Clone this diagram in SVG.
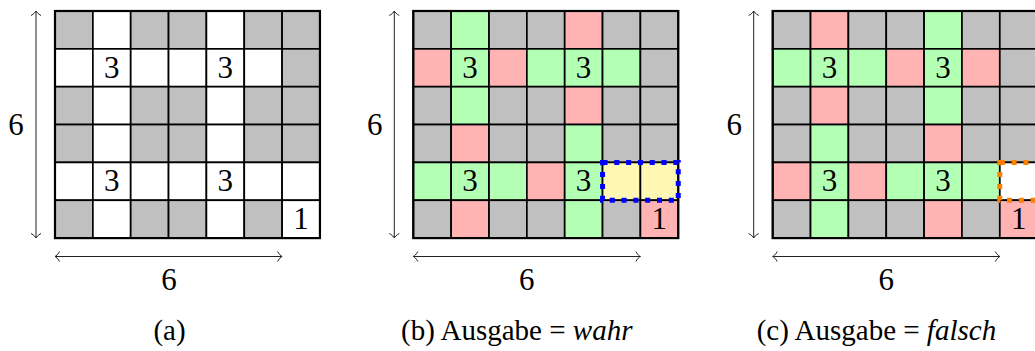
<svg xmlns="http://www.w3.org/2000/svg" width="1035" height="351" viewBox="0 0 1035 351">
<style>
rect.c{stroke:#000;stroke-width:1.7}
.g{fill:#c0c0c0}.w{fill:#fff}.gr{fill:#b3ffb3}.r{fill:#ffb3b3}.y{fill:#fff8b5}
.n{text-anchor:middle}
.cap{font-size:29px}
.ar{stroke:#222;stroke-width:1;fill:none;marker-start:url(#tip);marker-end:url(#tip)}
.dash{fill:none;stroke-width:5;stroke-dasharray:5 6.8}
</style>
<defs>
<marker id="tip" markerUnits="userSpaceOnUse" markerWidth="12" markerHeight="12" viewBox="-6 -6 12 12" refX="0" refY="0" orient="auto-start-reverse">
<path d="M-4.5,-5 C-3,-2 -1,-0.5 0,0 C-1,0.5 -3,2 -4.5,5" fill="none" stroke="#222" stroke-width="1"/>
</marker>
</defs>
<rect width="1035" height="351" fill="#fff"/>

<g id="panel-a" transform="translate(55,11)" font-family="'Liberation Serif', 'Times New Roman', serif" font-size="31">
<rect class="c g" x="0" y="0" width="37.85" height="37.85"/><rect class="c w" x="37.85" y="0" width="37.85" height="37.85"/><rect class="c g" x="75.7" y="0" width="37.85" height="37.85"/><rect class="c g" x="113.55" y="0" width="37.85" height="37.85"/><rect class="c w" x="151.4" y="0" width="37.85" height="37.85"/><rect class="c g" x="189.25" y="0" width="37.85" height="37.85"/><rect class="c g" x="227.1" y="0" width="37.85" height="37.85"/>
<rect class="c w" x="0" y="37.85" width="37.85" height="37.85"/><rect class="c w" x="37.85" y="37.85" width="37.85" height="37.85"/><rect class="c w" x="75.7" y="37.85" width="37.85" height="37.85"/><rect class="c w" x="113.55" y="37.85" width="37.85" height="37.85"/><rect class="c w" x="151.4" y="37.85" width="37.85" height="37.85"/><rect class="c w" x="189.25" y="37.85" width="37.85" height="37.85"/><rect class="c g" x="227.1" y="37.85" width="37.85" height="37.85"/>
<rect class="c g" x="0" y="75.7" width="37.85" height="37.85"/><rect class="c w" x="37.85" y="75.7" width="37.85" height="37.85"/><rect class="c g" x="75.7" y="75.7" width="37.85" height="37.85"/><rect class="c g" x="113.55" y="75.7" width="37.85" height="37.85"/><rect class="c w" x="151.4" y="75.7" width="37.85" height="37.85"/><rect class="c g" x="189.25" y="75.7" width="37.85" height="37.85"/><rect class="c g" x="227.1" y="75.7" width="37.85" height="37.85"/>
<rect class="c g" x="0" y="113.55" width="37.85" height="37.85"/><rect class="c w" x="37.85" y="113.55" width="37.85" height="37.85"/><rect class="c g" x="75.7" y="113.55" width="37.85" height="37.85"/><rect class="c g" x="113.55" y="113.55" width="37.85" height="37.85"/><rect class="c w" x="151.4" y="113.55" width="37.85" height="37.85"/><rect class="c g" x="189.25" y="113.55" width="37.85" height="37.85"/><rect class="c g" x="227.1" y="113.55" width="37.85" height="37.85"/>
<rect class="c w" x="0" y="151.4" width="37.85" height="37.85"/><rect class="c w" x="37.85" y="151.4" width="37.85" height="37.85"/><rect class="c w" x="75.7" y="151.4" width="37.85" height="37.85"/><rect class="c w" x="113.55" y="151.4" width="37.85" height="37.85"/><rect class="c w" x="151.4" y="151.4" width="37.85" height="37.85"/><rect class="c w" x="189.25" y="151.4" width="37.85" height="37.85"/><rect class="c w" x="227.1" y="151.4" width="37.85" height="37.85"/>
<rect class="c g" x="0" y="189.25" width="37.85" height="37.85"/><rect class="c w" x="37.85" y="189.25" width="37.85" height="37.85"/><rect class="c g" x="75.7" y="189.25" width="37.85" height="37.85"/><rect class="c g" x="113.55" y="189.25" width="37.85" height="37.85"/><rect class="c w" x="151.4" y="189.25" width="37.85" height="37.85"/><rect class="c g" x="189.25" y="189.25" width="37.85" height="37.85"/><rect class="c w" x="227.1" y="189.25" width="37.85" height="37.85"/>
<rect x="0" y="0" width="264.95" height="227.1" fill="none" stroke="#000" stroke-width="2.2"/>
<text class="n" x="56.75" y="66.5">3</text><text class="n" x="170.3" y="66.5">3</text>
<text class="n" x="56.75" y="180.1">3</text><text class="n" x="170.3" y="180.1">3</text>
<text class="n" x="246" y="218">1</text>
<text class="n" x="-39" y="124">6</text>
<text class="n" x="114" y="279">6</text>
<text class="n cap" x="114.5" y="329">(a)</text>
</g>

<g id="panel-b" transform="translate(413.3,11)" font-family="'Liberation Serif', 'Times New Roman', serif" font-size="31">
<rect class="c g" x="0" y="0" width="37.85" height="37.85"/><rect class="c gr" x="37.85" y="0" width="37.85" height="37.85"/><rect class="c g" x="75.7" y="0" width="37.85" height="37.85"/><rect class="c g" x="113.55" y="0" width="37.85" height="37.85"/><rect class="c r" x="151.4" y="0" width="37.85" height="37.85"/><rect class="c g" x="189.25" y="0" width="37.85" height="37.85"/><rect class="c g" x="227.1" y="0" width="37.85" height="37.85"/>
<rect class="c r" x="0" y="37.85" width="37.85" height="37.85"/><rect class="c gr" x="37.85" y="37.85" width="37.85" height="37.85"/><rect class="c r" x="75.7" y="37.85" width="37.85" height="37.85"/><rect class="c gr" x="113.55" y="37.85" width="37.85" height="37.85"/><rect class="c gr" x="151.4" y="37.85" width="37.85" height="37.85"/><rect class="c gr" x="189.25" y="37.85" width="37.85" height="37.85"/><rect class="c g" x="227.1" y="37.85" width="37.85" height="37.85"/>
<rect class="c g" x="0" y="75.7" width="37.85" height="37.85"/><rect class="c gr" x="37.85" y="75.7" width="37.85" height="37.85"/><rect class="c g" x="75.7" y="75.7" width="37.85" height="37.85"/><rect class="c g" x="113.55" y="75.7" width="37.85" height="37.85"/><rect class="c r" x="151.4" y="75.7" width="37.85" height="37.85"/><rect class="c g" x="189.25" y="75.7" width="37.85" height="37.85"/><rect class="c g" x="227.1" y="75.7" width="37.85" height="37.85"/>
<rect class="c g" x="0" y="113.55" width="37.85" height="37.85"/><rect class="c r" x="37.85" y="113.55" width="37.85" height="37.85"/><rect class="c g" x="75.7" y="113.55" width="37.85" height="37.85"/><rect class="c g" x="113.55" y="113.55" width="37.85" height="37.85"/><rect class="c gr" x="151.4" y="113.55" width="37.85" height="37.85"/><rect class="c g" x="189.25" y="113.55" width="37.85" height="37.85"/><rect class="c g" x="227.1" y="113.55" width="37.85" height="37.85"/>
<rect class="c gr" x="0" y="151.4" width="37.85" height="37.85"/><rect class="c gr" x="37.85" y="151.4" width="37.85" height="37.85"/><rect class="c gr" x="75.7" y="151.4" width="37.85" height="37.85"/><rect class="c r" x="113.55" y="151.4" width="37.85" height="37.85"/><rect class="c gr" x="151.4" y="151.4" width="37.85" height="37.85"/><rect class="c y" x="189.25" y="151.4" width="37.85" height="37.85"/><rect class="c y" x="227.1" y="151.4" width="37.85" height="37.85"/>
<rect class="c g" x="0" y="189.25" width="37.85" height="37.85"/><rect class="c r" x="37.85" y="189.25" width="37.85" height="37.85"/><rect class="c g" x="75.7" y="189.25" width="37.85" height="37.85"/><rect class="c g" x="113.55" y="189.25" width="37.85" height="37.85"/><rect class="c gr" x="151.4" y="189.25" width="37.85" height="37.85"/><rect class="c g" x="189.25" y="189.25" width="37.85" height="37.85"/><rect class="c r" x="227.1" y="189.25" width="37.85" height="37.85"/>
<rect x="0" y="0" width="264.95" height="227.1" fill="none" stroke="#000" stroke-width="2.2"/>
<rect class="dash" x="189.25" y="151.4" width="75.7" height="37.85" stroke="#0000ff"/>
<text class="n" x="56.75" y="66.5">3</text><text class="n" x="170.3" y="66.5">3</text>
<text class="n" x="56.75" y="180.1">3</text><text class="n" x="170.3" y="180.1">3</text>
<text class="n" x="246" y="218">1</text>
<text class="n" x="-38.5" y="124">6</text>
<text class="n" x="113.5" y="279">6</text>
<text class="cap" x="-12.3" y="329">(b) Ausgabe = <tspan font-style="italic">wahr</tspan></text>
</g>

<g id="panel-c" transform="translate(772.7,11)" font-family="'Liberation Serif', 'Times New Roman', serif" font-size="31">
<rect class="c g" x="0" y="0" width="37.85" height="37.85"/><rect class="c r" x="37.85" y="0" width="37.85" height="37.85"/><rect class="c g" x="75.7" y="0" width="37.85" height="37.85"/><rect class="c g" x="113.55" y="0" width="37.85" height="37.85"/><rect class="c gr" x="151.4" y="0" width="37.85" height="37.85"/><rect class="c g" x="189.25" y="0" width="37.85" height="37.85"/><rect class="c g" x="227.1" y="0" width="37.85" height="37.85"/>
<rect class="c gr" x="0" y="37.85" width="37.85" height="37.85"/><rect class="c gr" x="37.85" y="37.85" width="37.85" height="37.85"/><rect class="c gr" x="75.7" y="37.85" width="37.85" height="37.85"/><rect class="c r" x="113.55" y="37.85" width="37.85" height="37.85"/><rect class="c gr" x="151.4" y="37.85" width="37.85" height="37.85"/><rect class="c r" x="189.25" y="37.85" width="37.85" height="37.85"/><rect class="c g" x="227.1" y="37.85" width="37.85" height="37.85"/>
<rect class="c g" x="0" y="75.7" width="37.85" height="37.85"/><rect class="c r" x="37.85" y="75.7" width="37.85" height="37.85"/><rect class="c g" x="75.7" y="75.7" width="37.85" height="37.85"/><rect class="c g" x="113.55" y="75.7" width="37.85" height="37.85"/><rect class="c gr" x="151.4" y="75.7" width="37.85" height="37.85"/><rect class="c g" x="189.25" y="75.7" width="37.85" height="37.85"/><rect class="c g" x="227.1" y="75.7" width="37.85" height="37.85"/>
<rect class="c g" x="0" y="113.55" width="37.85" height="37.85"/><rect class="c gr" x="37.85" y="113.55" width="37.85" height="37.85"/><rect class="c g" x="75.7" y="113.55" width="37.85" height="37.85"/><rect class="c g" x="113.55" y="113.55" width="37.85" height="37.85"/><rect class="c r" x="151.4" y="113.55" width="37.85" height="37.85"/><rect class="c g" x="189.25" y="113.55" width="37.85" height="37.85"/><rect class="c g" x="227.1" y="113.55" width="37.85" height="37.85"/>
<rect class="c r" x="0" y="151.4" width="37.85" height="37.85"/><rect class="c gr" x="37.85" y="151.4" width="37.85" height="37.85"/><rect class="c r" x="75.7" y="151.4" width="37.85" height="37.85"/><rect class="c gr" x="113.55" y="151.4" width="37.85" height="37.85"/><rect class="c gr" x="151.4" y="151.4" width="37.85" height="37.85"/><rect class="c gr" x="189.25" y="151.4" width="37.85" height="37.85"/><rect class="c w" x="227.1" y="151.4" width="37.85" height="37.85"/>
<rect class="c g" x="0" y="189.25" width="37.85" height="37.85"/><rect class="c gr" x="37.85" y="189.25" width="37.85" height="37.85"/><rect class="c g" x="75.7" y="189.25" width="37.85" height="37.85"/><rect class="c g" x="113.55" y="189.25" width="37.85" height="37.85"/><rect class="c r" x="151.4" y="189.25" width="37.85" height="37.85"/><rect class="c g" x="189.25" y="189.25" width="37.85" height="37.85"/><rect class="c r" x="227.1" y="189.25" width="37.85" height="37.85"/>
<rect x="0" y="0" width="264.95" height="227.1" fill="none" stroke="#000" stroke-width="2.2"/>
<rect class="dash" x="227.1" y="151.4" width="75.7" height="37.85" stroke="#ff8000"/>
<text class="n" x="56.75" y="66.5">3</text><text class="n" x="170.3" y="66.5">3</text>
<text class="n" x="56.75" y="180.1">3</text><text class="n" x="170.3" y="180.1">3</text>
<text class="n" x="246" y="218">1</text>
<text class="n" x="-38.5" y="124">6</text>
<text class="n" x="113.5" y="279">6</text>
<text class="cap" x="-16" y="329">(c) Ausgabe = <tspan font-style="italic">falsch</tspan></text>
</g>

<g id="connectors">
<line class="ar" x1="36" y1="11" x2="36" y2="238"/>
<line class="ar" x1="55" y1="256.5" x2="282.1" y2="256.5"/>
<line class="ar" x1="394.3" y1="11" x2="394.3" y2="238"/>
<line class="ar" x1="413.3" y1="256.5" x2="640.4" y2="256.5"/>
<line class="ar" x1="753.7" y1="11" x2="753.7" y2="238"/>
<line class="ar" x1="772.7" y1="256.5" x2="999.8" y2="256.5"/>
</g>
</svg>
